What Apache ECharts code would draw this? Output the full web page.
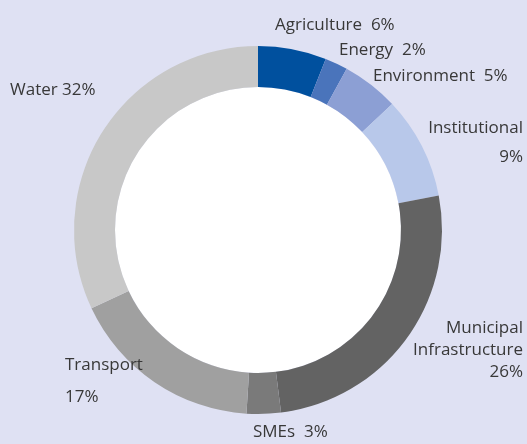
<!DOCTYPE html>
<html>
<head>
<meta charset="utf-8">
<script src="https://cdn.jsdelivr.net/npm/echarts@6/dist/echarts.min.js"></script>
<style>
  html, body { margin: 0; padding: 0; background: #dfe1f3; }
  #chart { width: 527px; height: 444px; }
</style>
</head>
<body>
<div id="chart"></div>
<script>
const categories = ['Agriculture', 'Energy', 'Environment', 'Institutional', 'Municipal Infrastructure', 'SMEs', 'Transport', 'Water']
const shares = [6, 2, 5, 9, 26, 3, 17, 32]
const colors = ['#00509e', '#4a74bb', '#8c9fd4', '#b8c8ea', '#636363', '#7a7a7a', '#a0a0a0', '#c8c8c8']

// label text and placement, by slice
const labelText = [
  'Agriculture  6%',
  'Energy  2%',
  'Environment  5%',
  'Institutional\n9%',
  'Municipal\nInfrastructure\n26%',
  'SMEs  3%',
  'Transport\n17%',
  'Water 32%',
]
const labelPos = [
  { x: 275, y: 25, align: 'left', lh: 20 },
  { x: 339, y: 50, align: 'left', lh: 20 },
  { x: 373, y: 76, align: 'left', lh: 20 },
  { x: 523, y: 143, align: 'right', lh: 29 },
  { x: 523, y: 350, align: 'right', lh: 22 },
  { x: 253, y: 432, align: 'left', lh: 20 },
  { x: 65, y: 381, align: 'left', lh: 32 },
  { x: 10, y: 90, align: 'left', lh: 20 },
]

const chart = echarts.init(document.getElementById('chart'))

const option = {
  backgroundColor: '#dfe1f3',
  animation: false,
  series: [
    {
      // white hole of the donut
      type: 'pie',
      center: [258, 230],
      radius: [0, 143],
      silent: true,
      label: { show: false },
      labelLine: { show: false },
      itemStyle: { color: '#ffffff' },
      data: [1],
    },
    {
      type: 'pie',
      center: [258, 230],
      radius: [143, 184],
      startAngle: 90,
      clockwise: true,
      silent: true,
      itemStyle: { borderWidth: 0 },
      label: {
        show: true,
        position: 'outside',
        fontFamily: 'Open Sans',
        fontSize: 17,
        color: '#383838',
        overflow: 'none',
        formatter: (p) => labelText[p.dataIndex],
      },
      labelLine: { show: false },
      labelLayout: (p) => {
        const l = labelPos[p.dataIndex]
        return { x: l.x, y: l.y, align: l.align, verticalAlign: 'middle', lineHeight: l.lh }
      },
      data: categories.map((name, i) => ({
        name,
        value: shares[i],
        itemStyle: { color: colors[i] },
        label: { lineHeight: labelPos[i].lh, align: labelPos[i].align },
      })),
    },
  ],
}
option && chart.setOption(option)
</script>
</body>
</html>
